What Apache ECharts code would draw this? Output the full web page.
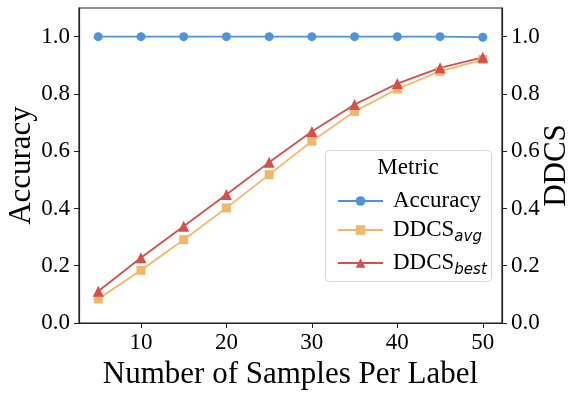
<!DOCTYPE html>
<html>
<head>
<meta charset="utf-8">
<script src="https://cdn.jsdelivr.net/npm/echarts@6/dist/echarts.min.js"></script>
<style>
  html, body { margin: 0; padding: 0; background: #fff; }
  #chart { width: 581px; height: 395px; }
</style>
</head>
<body>
<div id="chart"></div>
<script>
// 数据
var samples = [5, 10, 15, 20, 25, 30, 35, 40, 45, 50];
var accuracy = [1.0, 1.0, 1.0, 1.0, 1.0, 1.0, 1.0, 1.0, 1.0, 0.998];
var ddcsAvg = [0.084, 0.184, 0.291, 0.402, 0.518, 0.635, 0.739, 0.817, 0.879, 0.920];
var ddcsBest = [0.111, 0.228, 0.338, 0.449, 0.561, 0.669, 0.763, 0.836, 0.891, 0.928];
var xTicks = [10, 20, 30, 40, 50];
var yTicks = [0, 0.2, 0.4, 0.6, 0.8, 1.0];

var serif = 'Liberation Serif';
var blue = '#4f93d8', orange = '#efb86a', red = '#d4504f';

function pairs(vals) {
  return samples.map(function (s, i) { return [s, vals[i]]; });
}

var myChart = echarts.init(document.getElementById('chart'), null, { renderer: 'canvas' });

function yAxis(name, pos, gap) {
  return {
    type: 'value',
    position: pos,
    min: 0,
    max: 1.1,
    name: name,
    nameLocation: 'middle',
    nameGap: gap,
    nameMoveOverlap: false,
    nameTextStyle: { fontFamily: serif, fontSize: 31, color: '#000' },
    axisLine: { show: true, lineStyle: { color: '#222', width: 1.2 } },
    axisTick: { show: true, inside: false, length: 5, customValues: yTicks, lineStyle: { color: '#222' } },
    axisLabel: {
      customValues: yTicks, margin: 9,
      fontFamily: serif, fontSize: 23, color: '#000',
      formatter: function (v) { return v.toFixed(1); }
    },
    splitLine: { show: false }
  };
}

myChart.setOption({
  animation: false,
  grid: {
    left: 79, right: 79, top: 8, bottom: 72,
    containLabel: false, outerBoundsMode: 'none',
    show: true, borderColor: '#222', borderWidth: 1.2, backgroundColor: 'transparent'
  },
  xAxis: {
    type: 'value',
    min: 2.75,
    max: 52.25,
    name: 'Number of Samples Per Label',
    nameLocation: 'middle',
    nameGap: 29,
    nameTextStyle: { fontFamily: serif, fontSize: 31, color: '#000' },
    axisLine: { show: true, lineStyle: { color: '#222', width: 1.2 } },
    axisTick: { show: true, length: 5, customValues: xTicks, lineStyle: { color: '#222' } },
    axisLabel: { customValues: xTicks, margin: 8, fontFamily: serif, fontSize: 23, color: '#000' },
    splitLine: { show: false }
  },
  yAxis: [yAxis('Accuracy', 'left', 42), yAxis('DDCS', 'right', 39)],
  legend: {
    orient: 'vertical',
    left: 332,
    top: 184,
    itemWidth: 45,
    itemHeight: 12,
    itemGap: 6,
    data: ['Accuracy', 'DDCS_avg', 'DDCS_best'],
    formatter: function (name) {
      if (name === 'Accuracy') return '{m|Accuracy}';
      var parts = name.split('_');
      return '{m|' + parts[0] + '}{s|' + parts[1] + '}';
    },
    textStyle: {
      padding: [0, 0, 0, 5],
      rich: {
        m: { fontFamily: serif, fontSize: 23, color: '#000', lineHeight: 22, verticalAlign: 'bottom' },
        s: { fontFamily: 'DejaVu Sans', fontStyle: 'italic', fontSize: 15, color: '#000', lineHeight: 22, verticalAlign: 'bottom', padding: [0, 0, -4, 0] }
      }
    }
  },
  graphic: [
    {
      type: 'rect', z: 0,
      shape: { x: 325.5, y: 150.5, width: 166, height: 131, r: 4 },
      style: { fill: 'rgba(255,255,255,0.85)', stroke: '#d6d6d6', lineWidth: 1 }
    },
    {
      type: 'text', z: 1,
      style: { x: 408, y: 168, text: 'Metric', fontFamily: serif, fontSize: 23, fill: '#000', align: 'center', verticalAlign: 'middle' }
    }
  ],
  series: [
    {
      name: 'Accuracy', type: 'line', yAxisIndex: 0,
      data: pairs(accuracy),
      symbol: 'circle', symbolSize: 9,
      itemStyle: { color: blue },
      lineStyle: { color: blue, width: 1.8 }
    },
    {
      name: 'DDCS_avg', type: 'line', yAxisIndex: 1,
      data: pairs(ddcsAvg),
      symbol: 'rect', symbolSize: 9,
      itemStyle: { color: orange },
      lineStyle: { color: orange, width: 1.8 }
    },
    {
      name: 'DDCS_best', type: 'line', yAxisIndex: 1,
      data: pairs(ddcsBest),
      symbol: 'triangle', symbolSize: 11,
      itemStyle: { color: red },
      lineStyle: { color: red, width: 1.8 }
    }
  ]
});
</script>
</body>
</html>
